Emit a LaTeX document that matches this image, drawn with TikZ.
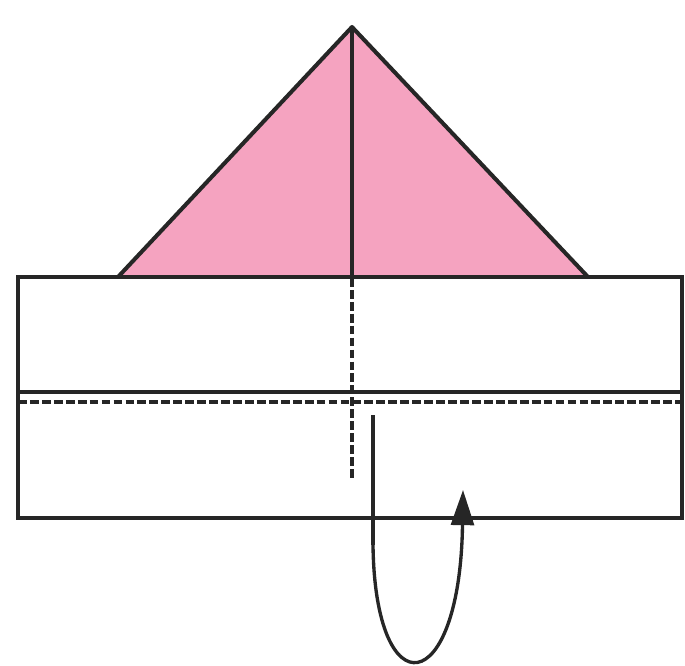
\documentclass[tikz,border=0pt]{standalone}
\usetikzlibrary{arrows.meta}

\begin{document}
\begin{tikzpicture}[x=0.02cm, y=-0.02cm]
    % Define colours
    \definecolor{borderColour}{HTML}{262626}
    \definecolor{fillColour}{HTML}{F5A3C0}

    % Define line widths
    \def\thickLine{2.3pt}
    \def\thinLine{1.9pt}

    % Fix the page size
    \useasboundingbox (0,0) rectangle (685,665);

    % Define coordinates for the paper strip
    \coordinate (topLeft) at (18,277);
    \coordinate (bottomRight) at (682,518);

    % Define coordinates for the triangle
    \coordinate (apex) at (352,27);
    \coordinate (baseLeft) at (118,277);
    \coordinate (baseRight) at (588,277);
    \coordinate (baseMid) at (352,277);
    \coordinate (creaseEnd) at (352,480);

    % Draw the pink triangle
    \filldraw[fill=fillColour, draw=borderColour, line width=\thickLine, line join=round]
        (baseLeft) -- (apex) -- (baseRight);

    % Draw the paper strip
    \draw[draw=borderColour, line width=\thickLine] (topLeft) rectangle (bottomRight);
    \draw[draw=borderColour, line width=\thickLine] (18,392) -- (682,392);

    % Draw the fold lines
    \draw[draw=borderColour, line width=\thickLine] (apex) -- (baseMid);
    \draw[draw=borderColour, line width=\thinLine, dash pattern=on 5pt off 1.8pt] (apex) -- (creaseEnd);
    \draw[draw=borderColour, line width=\thinLine, dash pattern=on 5pt off 1.8pt] (18,402) -- (682,402);

    % Draw the fold arrow
    \coordinate (arrowStart) at (373,415);
    \coordinate (arrowBend) at (373,545);
    \coordinate (arrowTip) at (463,490);
    \draw[draw=borderColour, line width=\thickLine] (arrowStart) -- (arrowBend);
    \draw[draw=borderColour, line width=\thinLine, -{Triangle[length=20pt, width=13pt]}]
        (arrowBend) .. controls (375,710) and (460,700) .. (arrowTip);

\end{tikzpicture}
\end{document}
